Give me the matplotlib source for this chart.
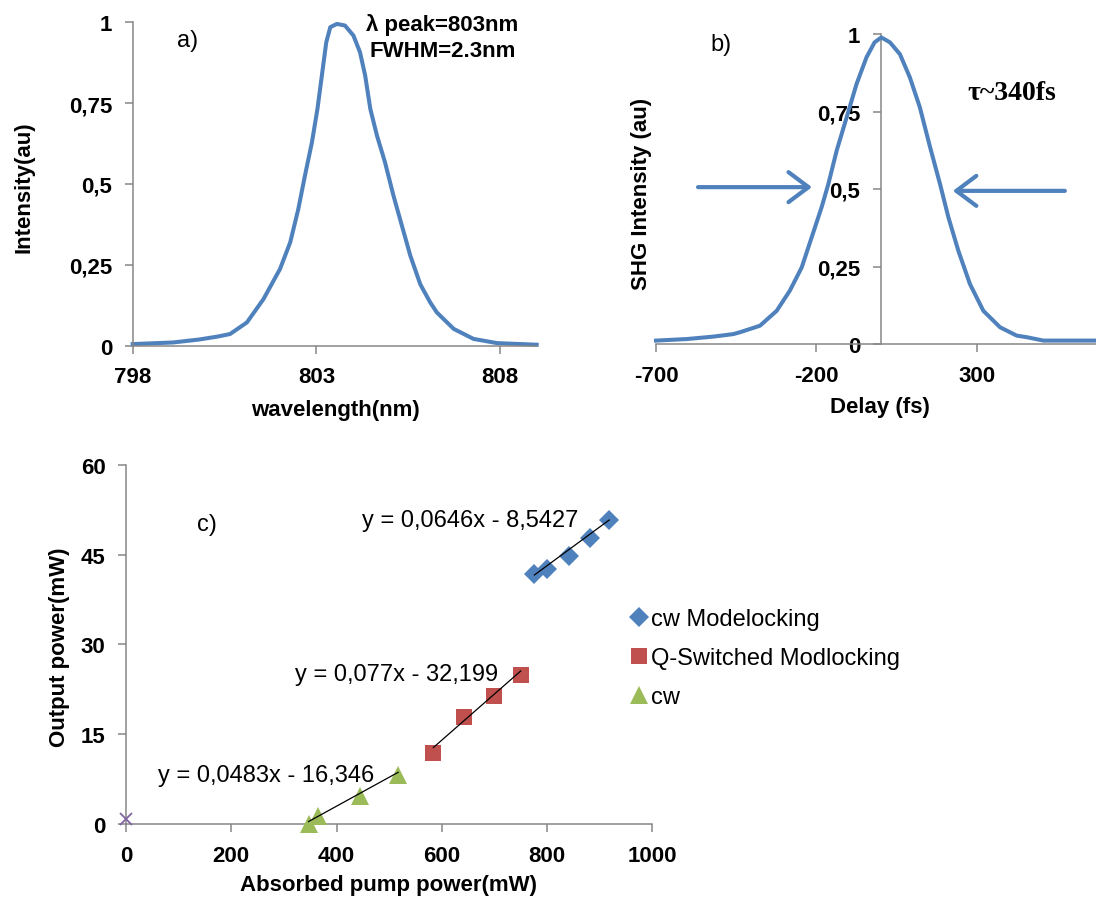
import matplotlib
matplotlib.use('Agg')
import matplotlib.pyplot as plt
import numpy as np

plt.rcParams['font.family'] = ['Liberation Sans', 'DejaVu Sans']

# ---------------- data ----------------
# a) spectrum
wavelength_nm = [798.0, 799.1, 799.8, 800.3, 800.65, 801.11, 801.56, 802.01, 802.29, 802.51,
                 802.69, 802.88, 803.03, 803.15, 803.27, 803.38, 803.56, 803.78, 804.01,
                 804.19, 804.33, 804.47, 804.65, 804.87, 805.1, 805.33, 805.56, 805.83,
                 806.1, 806.28, 806.74, 807.28, 807.92, 809.0]
intensity_a = [0.005, 0.010, 0.019, 0.028, 0.036, 0.072, 0.144, 0.237, 0.320, 0.423,
               0.526, 0.629, 0.732, 0.835, 0.938, 0.985, 0.995, 0.990, 0.959,
               0.907, 0.835, 0.732, 0.650, 0.567, 0.464, 0.371, 0.278, 0.190,
               0.134, 0.103, 0.052, 0.021, 0.008, 0.003]
a_xticks = [798, 803, 808]
a_yticks = [0, 0.25, 0.5, 0.75, 1]
a_yticklabels = ['0', '0,25', '0,5', '0,75', '1']

# b) autocorrelation
delay_fs = [-700, -604, -520, -459, -438, -376, -324, -283, -246, -215, -184, -163, -137,
            -106, -75, -44, -19, 2, 29, 60, 91, 122, 154, 185, 211, 242, 278, 320, 372,
            424, 455, 507, 671]
shg_intensity = [0.011, 0.016, 0.024, 0.032, 0.038, 0.059, 0.107, 0.172, 0.247, 0.344,
                 0.441, 0.516, 0.624, 0.731, 0.839, 0.925, 0.973, 0.989, 0.973, 0.935,
                 0.860, 0.764, 0.635, 0.516, 0.409, 0.301, 0.194, 0.107, 0.054,
                 0.027, 0.022, 0.011, 0.011]
b_xticks = [-700, -200, 300]
b_yticks = [0, 0.25, 0.5, 0.75, 1]
b_yticklabels = ['0', '0,25', '0,5', '0,75', '1']
arrow_left_x = [-569, -214]
arrow_right_x = [574, 225]
arrow_y = [0.506, 0.494]

# c) output power
cwml_x = [776, 799, 842, 882, 918]
cwml_y = [41.7, 42.6, 44.7, 47.7, 50.75]
qsml_x = [584, 642, 699, 750]
qsml_y = [11.85, 17.8, 21.3, 24.9]
cw_x = [347, 365, 445, 517]
cw_y = [0.0, 1.3, 4.6, 8.2]
origin_x = [0]
origin_y = [0.8]
fit_slopes = [0.0646, 0.077, 0.0483]
fit_intercepts = [-8.5427, -32.199, -16.346]
fit_labels = ['y = 0,0646x - 8,5427', 'y = 0,077x - 32,199', 'y = 0,0483x - 16,346']
series_labels = ['cw Modelocking', 'Q-Switched Modlocking', 'cw']
c_xticks = [0, 200, 400, 600, 800, 1000]
c_yticks = [0, 15, 30, 45, 60]

# ---------------- style ----------------
BLUE = '#4F81BD'
RED = '#C0504D'
GREEN = '#9BBB59'
PURPLE = '#8064A2'
GRAY = '#868686'
W, H = 1096, 904

fig = plt.figure(figsize=(W / 100, H / 100), dpi=100)


def rect(l, t, r, b):
    return [l / W, 1 - b / H, (r - l) / W, (b - t) / H]


def fp(x, y):
    return (x / W, 1 - y / H)


def style_axes(ax):
    for s in ['top', 'right']:
        ax.spines[s].set_visible(False)
    for s in ['left', 'bottom']:
        ax.spines[s].set_color(GRAY)
        ax.spines[s].set_linewidth(1.1)
    ax.tick_params(direction='out', length=5.8, width=1.1, color=GRAY, pad=9,
                   labelsize=16)
    for lab in ax.get_xticklabels() + ax.get_yticklabels():
        lab.set_fontweight('bold')


def set_labels(ax, xlabel, xpos, ylabel, ypos):
    ax.set_xlabel(xlabel, fontsize=16, fontweight='bold', va='center')
    ax.xaxis.set_label_coords(*fp(*xpos), transform=fig.transFigure)
    ax.set_ylabel(ylabel, fontsize=16, fontweight='bold', va='center')
    ax.yaxis.set_label_coords(*fp(*ypos), transform=fig.transFigure)


# ---- panel a ----
ax_a = fig.add_axes(rect(132.7, 23.3, 536.7, 346.7))
ax_a.plot(wavelength_nm, intensity_a, color=BLUE, lw=2.9, clip_on=False,
          solid_joinstyle='round')
ax_a.set_xlim(798, 809)
ax_a.set_ylim(0, 1)
ax_a.set_xticks(a_xticks)
ax_a.set_xticklabels([str(v) for v in a_xticks])
ax_a.set_yticks(a_yticks)
ax_a.set_yticklabels(a_yticklabels)
style_axes(ax_a)
set_labels(ax_a, 'wavelength(nm)', (335, 411), 'Intensity(au)', (23.5, 187))
fig.text(*fp(187.5, 41.5), 'a)', fontsize=17, ha='center', va='center')
fig.text(*fp(442.5, 25), 'λ peak=803nm', fontsize=16, fontweight='bold',
         ha='center', va='center')
fig.text(*fp(442.5, 51.7), 'FWHM=2.3nm', fontsize=16, fontweight='bold',
         ha='center', va='center')

# ---- panel b ----
ax_b = fig.add_axes(rect(656, 35, 1096, 345))
ax_b.plot(delay_fs, shg_intensity, color=BLUE, lw=2.9, clip_on=False, zorder=3,
          solid_joinstyle='round')
ax_b.set_xlim(-700, 671)
ax_b.set_ylim(0, 1)
ax_b.spines['left'].set_position(('data', 0))
ax_b.set_xticks(b_xticks)
ax_b.set_xticklabels([str(v) for v in b_xticks])
ax_b.set_yticks(b_yticks)
ax_b.set_yticklabels(b_yticklabels)
style_axes(ax_b)
set_labels(ax_b, 'Delay (fs)', (880, 408), 'SHG Intensity (au)', (641, 193.5))
arrow_kw = dict(arrowstyle='->,head_length=0.6,head_width=0.45', lw=3.0,
                color=BLUE, mutation_scale=24, shrinkA=0, shrinkB=0)
ax_b.annotate('', xy=(arrow_left_x[1], arrow_y[0]), xytext=(arrow_left_x[0], arrow_y[0]),
              arrowprops=arrow_kw)
ax_b.annotate('', xy=(arrow_right_x[1], arrow_y[1]), xytext=(arrow_right_x[0], arrow_y[1]),
              arrowprops=arrow_kw)
fig.text(*fp(721.5, 45), 'b)', fontsize=17, ha='center', va='center')
fig.text(*fp(1011.7, 93.3), 'τ~340fs', fontsize=20, fontweight='bold',
         family=['Liberation Serif', 'DejaVu Serif'], ha='center', va='center')

# ---- panel c ----
ax_c = fig.add_axes(rect(126, 465.7, 652.3, 825))
h1, = ax_c.plot(cwml_x, cwml_y, 'D', color=BLUE, ms=10.5, mew=0, clip_on=False,
                label=series_labels[0], zorder=3)
h2, = ax_c.plot(qsml_x, qsml_y, 's', color=RED, ms=12, mew=0, clip_on=False,
                label=series_labels[1], zorder=3)
h3, = ax_c.plot(cw_x, cw_y, '^', color=GREEN, ms=13, mew=0, clip_on=False,
                label=series_labels[2], zorder=3)
ax_c.plot(origin_x, origin_y, 'x', color=PURPLE, ms=9, mew=1.3, clip_on=False, zorder=3)
for xs, m, b in zip([cwml_x, qsml_x, cw_x], fit_slopes, fit_intercepts):
    xl = np.array([min(xs), max(xs)])
    ax_c.plot(xl, m * xl + b, color='black', lw=0.9, zorder=4)
ax_c.set_xlim(0, 1000)
ax_c.set_ylim(0, 60)
ax_c.set_xticks(c_xticks)
ax_c.set_yticks(c_yticks)
style_axes(ax_c)
set_labels(ax_c, 'Absorbed pump power(mW)', (388, 886), 'Output power(mW)', (60, 647))
fig.text(*fp(207, 525), 'c)', fontsize=17, ha='center', va='center')
eq_pos = [(470, 521), (396.7, 675), (265.8, 776)]
for (x, y), t in zip(eq_pos, fit_labels):
    fig.text(*fp(x, y), t, fontsize=17, ha='center', va='center')

fig.legend(handles=[h1, h2, h3], labels=series_labels, loc='upper left',
           bbox_to_anchor=fp(629.6, 609), bbox_transform=fig.transFigure,
           frameon=False, fontsize=17, handlelength=0.8, handletextpad=0.1,
           labelspacing=0.72, borderpad=0, borderaxespad=0, markerscale=0.95)

fig.savefig('out.png', dpi=100, facecolor='white')
